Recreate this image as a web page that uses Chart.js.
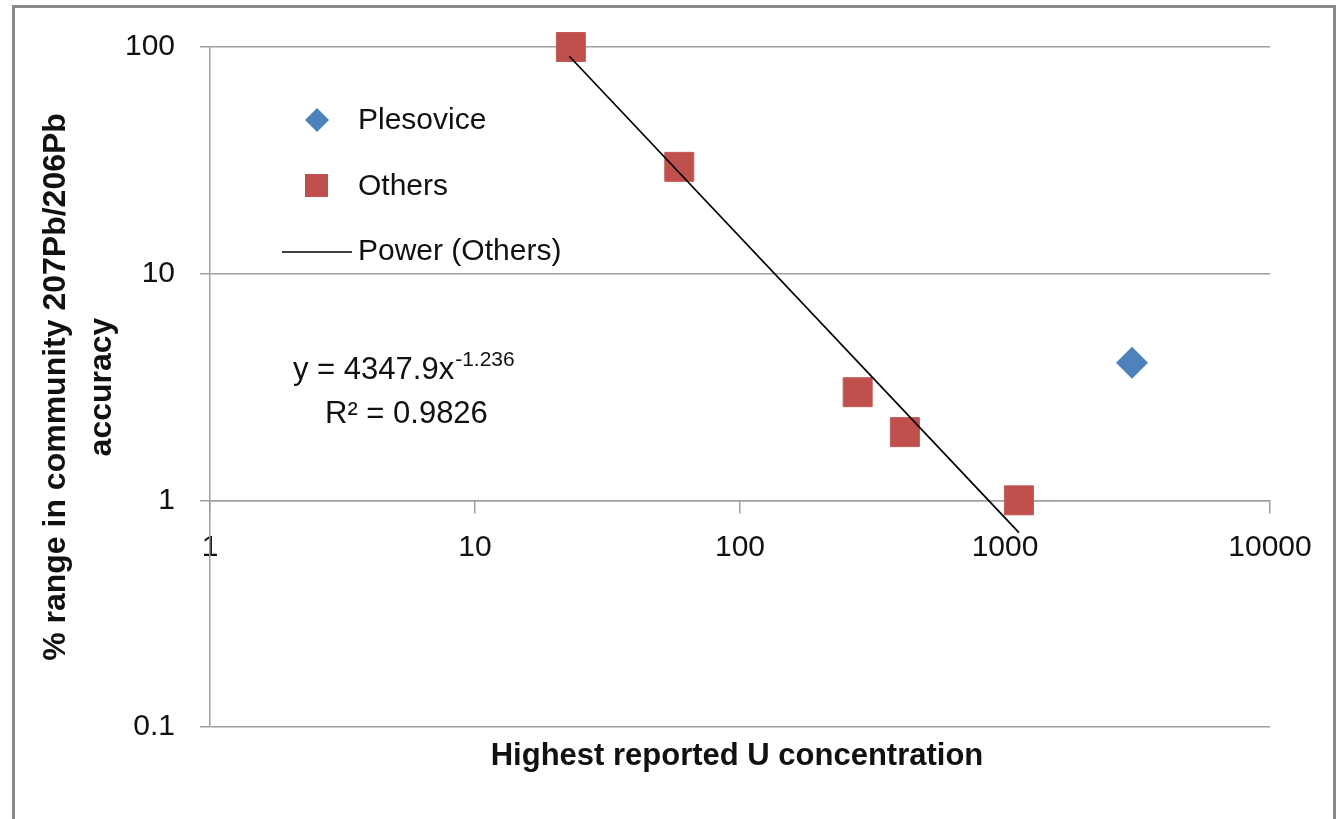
<!DOCTYPE html>
<html>
<head>
<meta charset="utf-8">
<script src="https://cdn.jsdelivr.net/npm/chart.js@4/dist/chart.umd.min.js"></script>
<style>
  html, body { margin: 0; padding: 0; background: #fff; }
  #wrap { position: relative; width: 1341px; height: 819px; overflow: hidden; }
  #frame { position: absolute; left: 12px; top: 5px; width: 1318px; height: 900px; border: 3px solid #8a8a8a; pointer-events: none; }
  canvas { position: absolute; left: 0; top: 0; }
</style>
</head>
<body>
<div id="wrap">
  <div id="frame"></div>
  <canvas id="myChart" width="1341" height="819"></canvas>
</div>
<script>
// tick labels
const xTicks = [1, 10, 100, 1000, 10000];
const yTicks = [0.1, 1, 10, 100];

// Plesovice
const plesoviceX = [3015];
const plesoviceY = [4.05];

// Others
const othersX = [23, 59, 278, 419, 1129];
const othersY = [100, 29.6, 3, 2, 1];

// Power (Others) trendline, ends
const trendX = [22.7, 1129];
const trendY = [91, 0.72];

const xTitle = 'Highest reported U concentration';
const yTitle = ['% range in community 207Pb/206Pb', 'accuracy'];
const equationText = 'y = 4347.9x';
const exponentText = '-1.236';
const rSquaredText = 'R² = 0.9826';

const gridColor = '#a0a0a0';
const textColor = '#111111';
const family = '"Liberation Sans", Arial, sans-serif';
Chart.defaults.font.family = family;
Chart.defaults.color = textColor;

const toPoints = (xs, ys) => xs.map((x, i) => ({ x, y: ys[i] }));

// legend, equation and x title drawn on the canvas
const insideText = {
    id: 'insideText',
    afterDraw(chart) {
        const ctx = chart.ctx;
        const ds = chart.data.datasets;
        const area = chart.chartArea;
        ctx.save();
        ctx.font = '30px ' + family;
        ctx.textBaseline = 'middle';
        ctx.textAlign = 'left';

        // Plesovice diamond
        ctx.fillStyle = ds[1].backgroundColor;
        ctx.beginPath();
        ctx.moveTo(317, 108); ctx.lineTo(329, 120); ctx.lineTo(317, 132); ctx.lineTo(305, 120);
        ctx.closePath();
        ctx.fill();
        // Others square
        ctx.fillStyle = ds[2].backgroundColor;
        ctx.fillRect(305, 174, 23, 23);
        // trend line
        ctx.strokeStyle = ds[0].borderColor;
        ctx.lineWidth = 1.5;
        ctx.beginPath();
        ctx.moveTo(282, 252); ctx.lineTo(352, 252);
        ctx.stroke();

        ctx.fillStyle = textColor;
        ctx.fillText(ds[1].label, 358, 121);
        ctx.fillText(ds[2].label, 358, 187);
        ctx.fillText(ds[0].label, 358, 252);

        // equation
        ctx.textBaseline = 'alphabetic';
        ctx.font = '31px ' + family;
        ctx.fillText(equationText, 293, 379);
        const w = ctx.measureText(equationText).width;
        ctx.font = '21px ' + family;
        ctx.fillText(exponentText, 293 + w + 1, 366);
        ctx.font = '31px ' + family;
        ctx.fillText(rSquaredText, 325, 423);

        // x axis title
        ctx.font = 'bold 31px ' + family;
        ctx.textAlign = 'center';
        ctx.textBaseline = 'middle';
        ctx.fillText(xTitle, (area.left + area.right) / 2 - 3, 756);
        ctx.restore();
    }
};

const ctx = document.getElementById('myChart').getContext('2d');
const myChart = new Chart(ctx, {
    type: 'scatter',
    data: {
        datasets: [
            {
                label: 'Power (Others)',
                data: toPoints(trendX, trendY),
                showLine: true,
                borderColor: '#000000',
                borderWidth: 1.7,
                pointRadius: 0,
                clip: false,
                order: 0
            },
            {
                label: 'Plesovice',
                data: toPoints(plesoviceX, plesoviceY),
                pointStyle: 'rectRot',
                pointRadius: 16,
                backgroundColor: '#4F81BD',
                borderColor: '#4F81BD',
                borderWidth: 0,
                clip: false,
                order: 1
            },
            {
                label: 'Others',
                data: toPoints(othersX, othersY),
                pointStyle: 'rect',
                pointRadius: 20.5,
                backgroundColor: '#C0504D',
                borderColor: '#C55A57',
                borderWidth: 1,
                clip: false,
                order: 2
            }
        ]
    },
    options: {
        responsive: false,
        animation: false,
        layout: { padding: { top: 47, right: 71, left: 0, bottom: 92 } },
        plugins: {
            legend: { display: false },
            tooltip: { enabled: false }
        },
        scales: {
            x: {
                type: 'logarithmic',
                position: { y: 1 },
                min: 1,
                max: 10000,
                afterBuildTicks: (scale) => { scale.ticks = xTicks.map(v => ({ value: v })); },
                ticks: {
                    callback: (v) => String(v),
                    font: { size: 30 },
                    padding: 17,
                    maxRotation: 0,
                    autoSkip: false
                },
                grid: { drawOnChartArea: false, drawTicks: true, tickLength: 12, color: gridColor, lineWidth: 1.5 },
                border: { display: true, color: gridColor, width: 1.5 }
            },
            y: {
                type: 'logarithmic',
                min: 0.1,
                max: 100,
                afterBuildTicks: (scale) => { scale.ticks = yTicks.map(v => ({ value: v })); },
                afterFit: (scale) => { scale.width = 210; },
                ticks: {
                    callback: (v) => String(v),
                    font: { size: 30 },
                    padding: 25,
                    autoSkip: false
                },
                grid: { color: gridColor, lineWidth: 1.5, tickLength: 10 },
                border: { display: true, color: gridColor, width: 1.5 },
                title: {
                    display: true,
                    text: yTitle,
                    color: textColor,
                    font: { size: 32, weight: 'bold', lineHeight: 1.44 },
                    padding: { top: 33, bottom: 0 }
                }
            }
        }
    },
    plugins: [insideText]
});
</script>
</body>
</html>
